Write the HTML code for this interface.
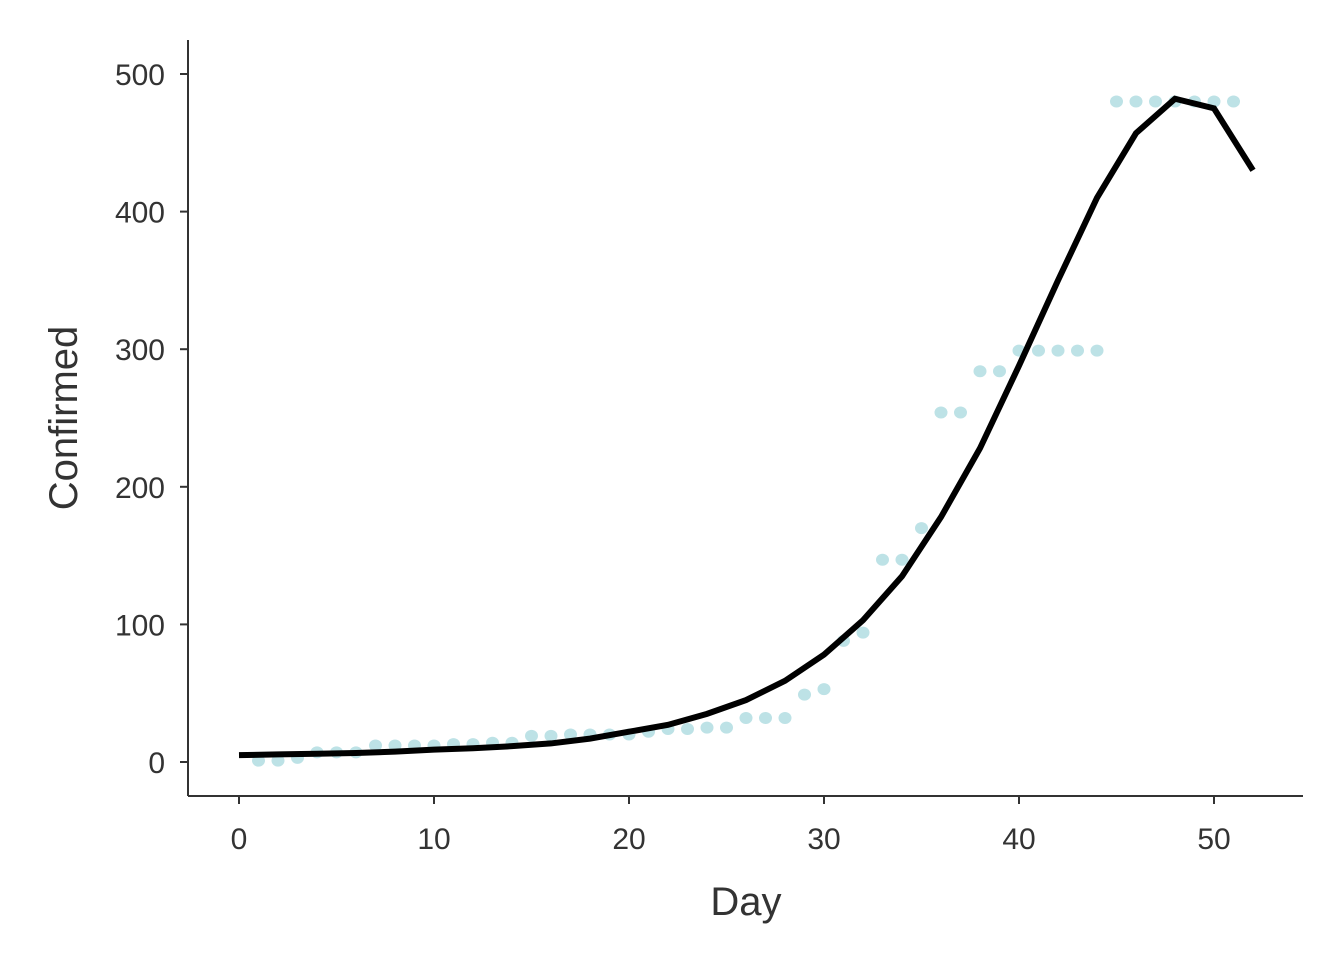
<!DOCTYPE html>
<html><head><meta charset="utf-8"><style>
body{margin:0;background:#fff;}
svg text{font-family:"Liberation Sans",sans-serif;fill:#333;}
</style></head><body>
<svg id="chart" width="1344" height="960" xmlns="http://www.w3.org/2000/svg">
<g id="pts"></g>
<g id="ln"></g>
<g id="ax"></g>
</svg>
<script>
const pointDays=[1,2,3,4,5,6,7,8,9,10,11,12,13,14,15,16,17,18,19,20,21,22,23,24,25,26,27,28,29,30,31,32,33,34,35,36,37,38,39,40,41,42,43,44,45,46,47,48,49,50,51];
const pointValues=[1,1,3,7,7,7,12,12,12,12,13,13,14,14,19,19,20,20,20,20,22,24,24,25,25,32,32,32,49,53,88,94,147,147,170,254,254,284,284,299,299,299,299,299,480,480,480,480,480,480,480];
const lineDays=[0,2,4,6,8,10,12,14,16,18,20,22,24,26,28,30,32,34,36,38,40,42,44,46,48,50,52];
const lineValues=[5,5.5,6,6.5,7.5,9,10,11.5,13.5,17,22,27,35,45,59,78,103,135,178,228,288,350,410,457,482,475,430];
const xTicks=[0,10,20,30,40,50];
const yTicks=[0,100,200,300,400,500];
const NS="http://www.w3.org/2000/svg";
const sx=d=>239+d*19.5;
const sy=v=>762-v*1.376;
function mk(tag,attrs,parent){const e=document.createElementNS(NS,tag);for(const k in attrs)e.setAttribute(k,attrs[k]);parent.appendChild(e);return e;}
const pts=document.getElementById('pts');
pointDays.forEach((d,i)=>{const c=mk('ellipse',{cx:sx(pointDays[i]),cy:sy(pointValues[i]),rx:6.5,ry:6,fill:'#bde2e6'},pts);

});
const ln=document.getElementById('ln');
const p=mk('polyline',{points:lineDays.map((d,i)=>sx(d)+','+sy(lineValues[i])).join(' '),fill:'none',stroke:'#000','stroke-width':6,'stroke-linejoin':'miter'},ln);


const ax=document.getElementById('ax');
const xa=mk('line',{x1:188,y1:796,x2:1303,y2:796,stroke:'#333','stroke-width':2},ax);


const ya=mk('line',{x1:188,y1:40,x2:188,y2:796,stroke:'#333','stroke-width':2},ax);


xTicks.forEach(t=>{mk('line',{x1:sx(t),y1:796,x2:sx(t),y2:804,stroke:'#333','stroke-width':2},ax);
const tx=mk('text',{x:sx(t),y:849,'text-anchor':'middle','font-size':30},ax);tx.textContent=t;

});
yTicks.forEach(t=>{mk('line',{x1:180,y1:sy(t),x2:188,y2:sy(t),stroke:'#333','stroke-width':2},ax);
const tx=mk('text',{x:165,y:sy(t)+11,'text-anchor':'end','font-size':30},ax);tx.textContent=t;

});
const xt=mk('text',{x:746,y:915,'text-anchor':'middle','font-size':40},ax);xt.textContent='Day';


const yt=mk('text',{x:0,y:0,'text-anchor':'middle','font-size':40,transform:'translate(77,418) rotate(-90)'},ax);yt.textContent='Confirmed';


</script>
</body></html>
